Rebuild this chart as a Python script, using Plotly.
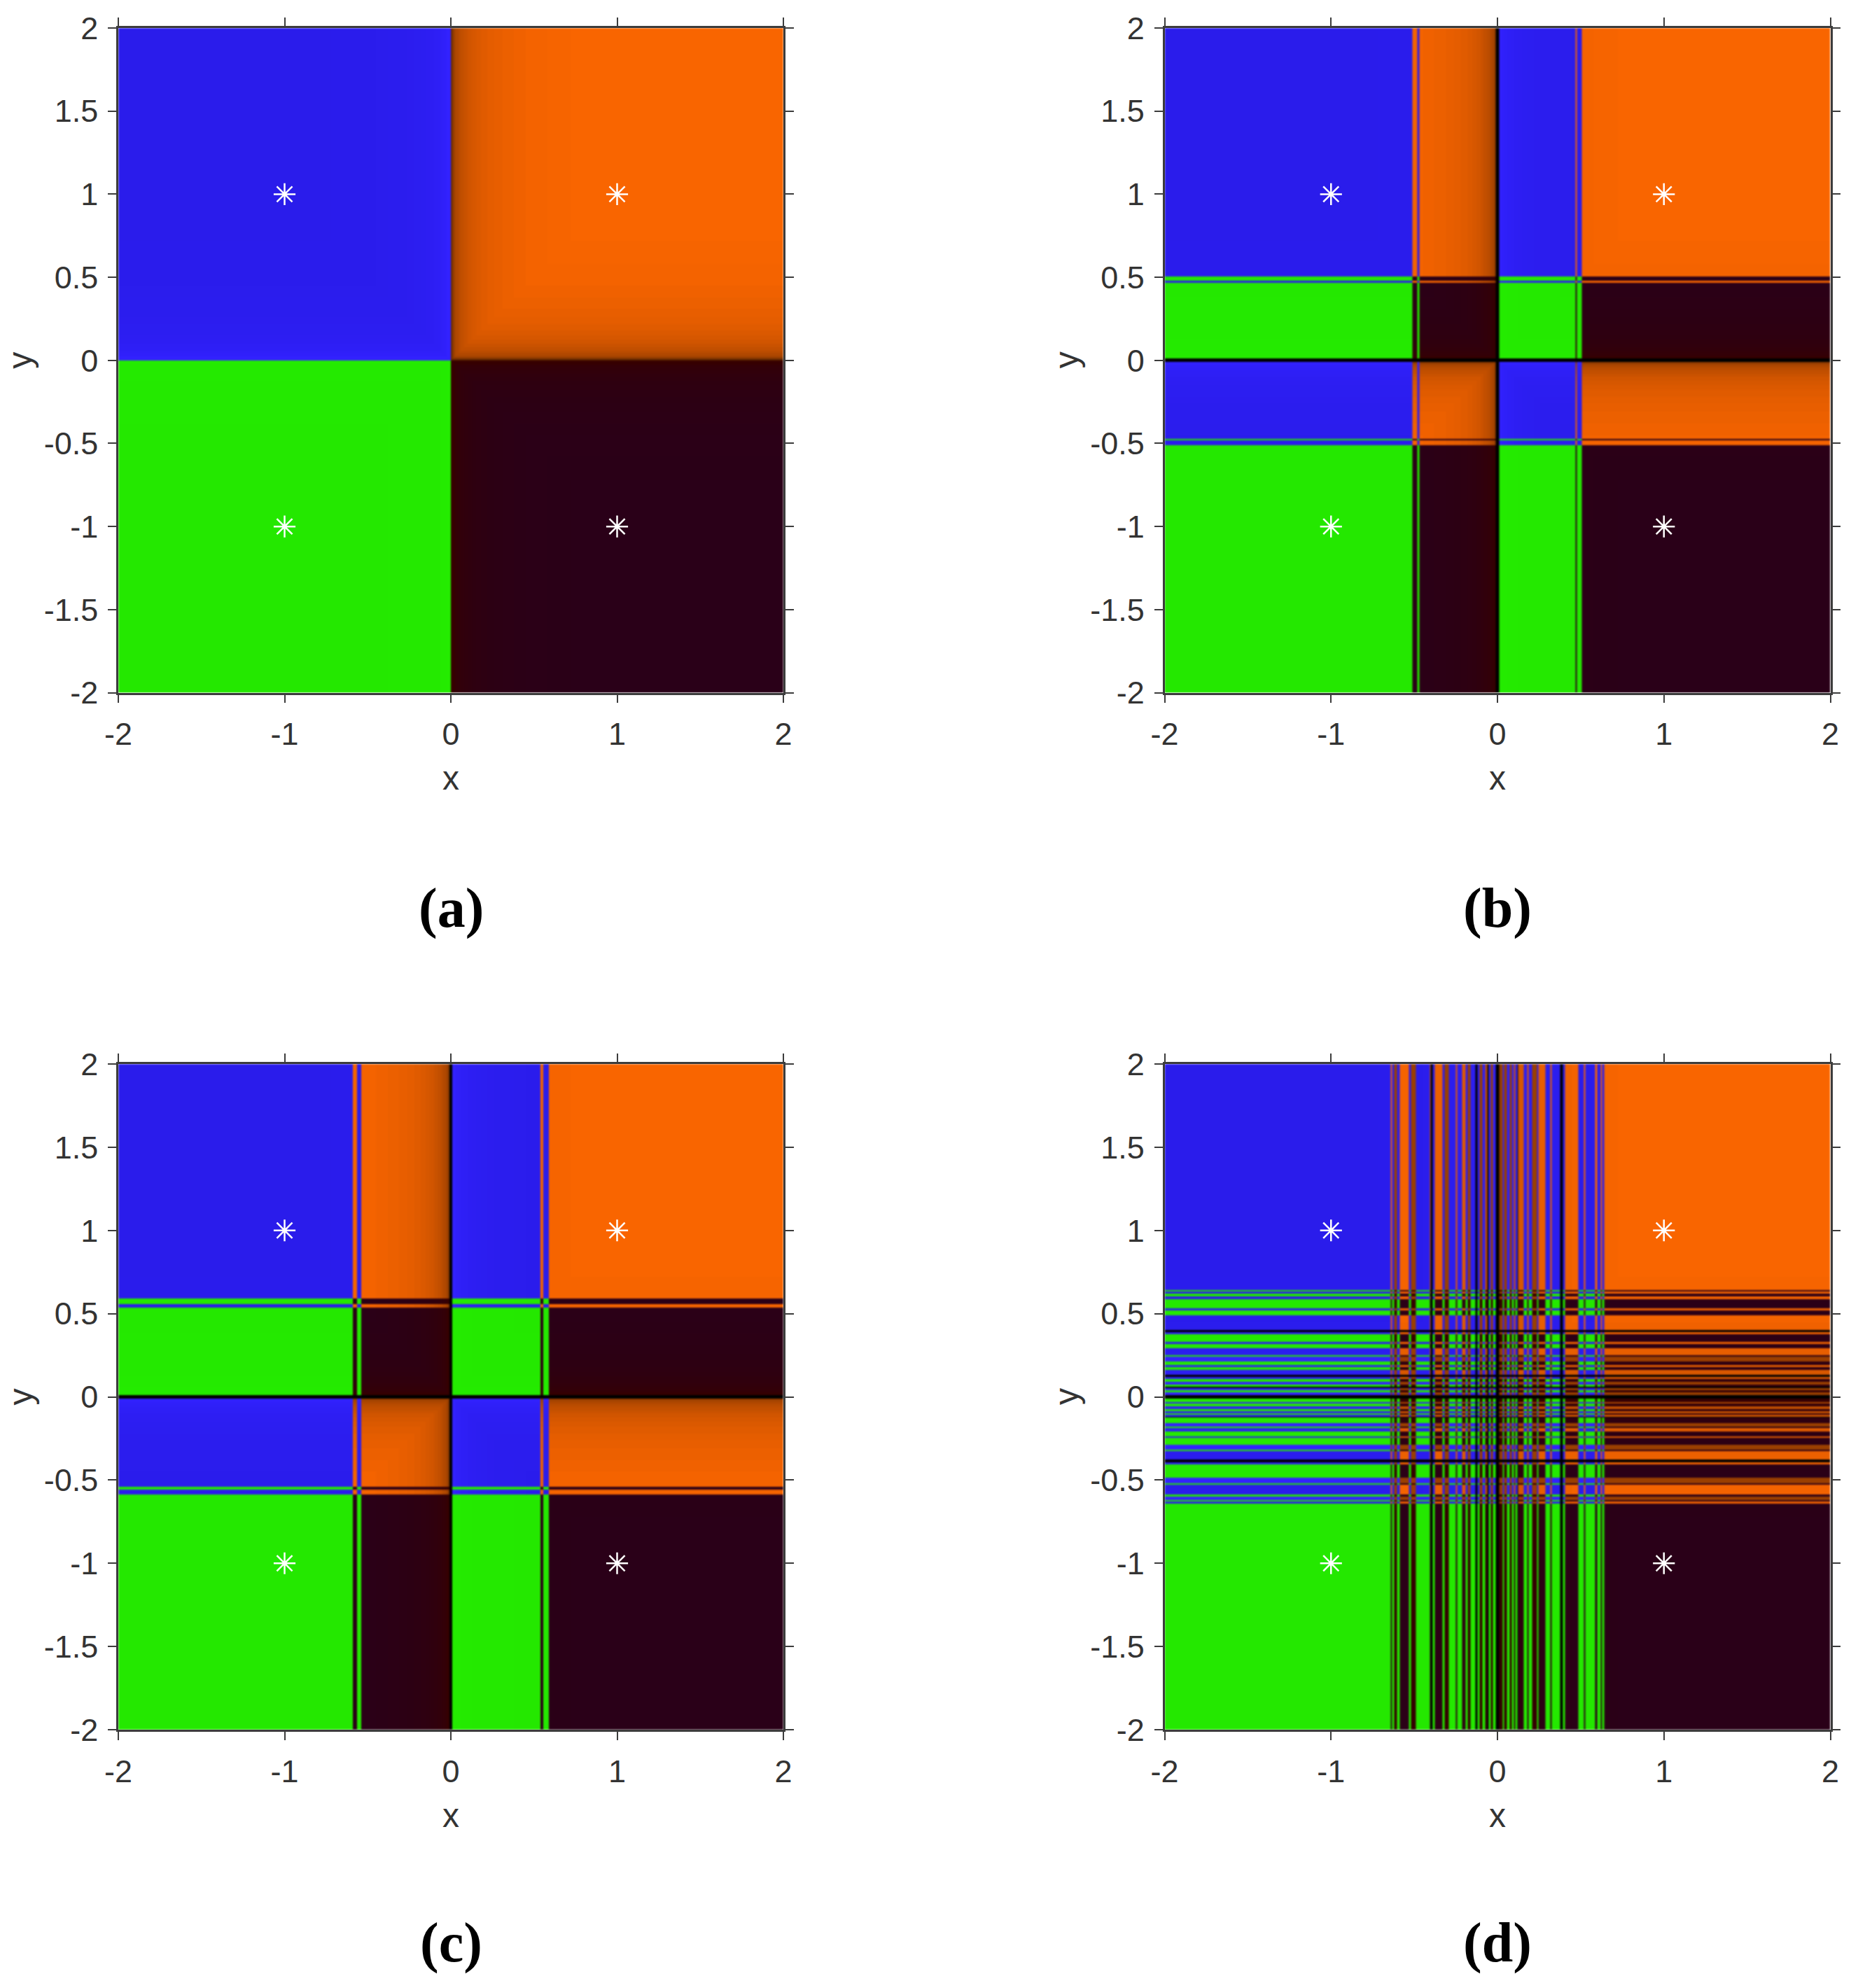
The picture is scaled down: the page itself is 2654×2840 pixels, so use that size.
import numpy as np
import plotly.graph_objects as go

# Band edges (data units) and the kind of each band, left to right / bottom to top.
# n = negative basin, p = positive basin, b = positive basin shaded brown, k = black
a_edges = [-2, 0, 2]
a_kinds = ["n", "p"]

b_x_edges = [-2, -0.510, -0.481, -0.468, -0.010, 0.009, 0.469, 0.479, 0.508, 2]
b_x_kinds = ["n", "p", "n", "p", "k", "n", "p", "n", "p"]
b_y_edges = [-2, -0.512, -0.482, -0.472, -0.010, 0.010, 0.465, 0.478, 0.506, 2]
b_y_kinds = ["n", "p", "n", "p", "k", "n", "p", "n", "p"]

c_x_edges = [-2, -0.589, -0.564, -0.537, -0.010, 0.010, 0.539, 0.557, 0.588, 2]
c_x_kinds = ["n", "p", "n", "p", "k", "n", "p", "n", "p"]
c_y_edges = [-2, -0.588, -0.557, -0.539, -0.010, 0.010, 0.537, 0.558, 0.589, 2]
c_y_kinds = ["n", "p", "n", "p", "k", "n", "p", "n", "p"]

d_x_edges = [-2, -0.643, -0.633, -0.621, -0.602, -0.588, -0.532, -0.518, -0.490, -0.408,
             -0.401, -0.391, -0.377, -0.331, -0.317, -0.292, -0.251, -0.243, -0.212, -0.191,
             -0.180, -0.163, -0.132, -0.118, -0.107, -0.090, -0.072, -0.062, -0.053, -0.042,
             -0.029, -0.011, 0.011, 0.031, 0.041, 0.058, 0.072, 0.087, 0.100, 0.108,
             0.118, 0.126, 0.156, 0.178, 0.188, 0.209, 0.237, 0.247, 0.286, 0.318,
             0.325, 0.377, 0.393, 0.407, 0.485, 0.518, 0.527, 0.585, 0.598, 0.619,
             0.627, 0.640, 2]
d_x_kinds = ["n", "p", "n", "b", "n", "p", "n", "b", "n", "p",
             "k", "n", "p", "n", "b", "n", "p", "n", "p", "n",
             "b", "n", "k", "n", "b", "n", "p", "k", "n", "b",
             "n", "k", "b", "n", "b", "n", "b", "n", "p", "n",
             "k", "p", "n", "p", "n", "b", "n", "p", "n", "p",
             "n", "k", "n", "p", "n", "p", "n", "p", "n", "p",
             "n", "p"]
d_y_edges = [-2, -0.640, -0.627, -0.619, -0.598, -0.585, -0.527, -0.518, -0.485, -0.407,
             -0.393, -0.377, -0.325, -0.318, -0.286, -0.247, -0.237, -0.209, -0.188, -0.178,
             -0.156, -0.126, -0.118, -0.108, -0.100, -0.087, -0.072, -0.058, -0.041, -0.031,
             -0.011, 0.011, 0.029, 0.042, 0.053, 0.062, 0.072, 0.090, 0.107, 0.118,
             0.132, 0.163, 0.180, 0.191, 0.212, 0.243, 0.251, 0.292, 0.317, 0.331,
             0.377, 0.391, 0.401, 0.490, 0.518, 0.532, 0.588, 0.602, 0.621, 0.633,
             0.643, 2]
d_y_kinds = ["n", "p", "n", "b", "n", "p", "n", "b", "n", "p",
             "k", "p", "n", "b", "n", "p", "n", "p", "n", "b",
             "n", "k", "p", "n", "p", "n", "p", "n", "p", "n",
             "k", "b", "n", "b", "k", "n", "b", "n", "p", "k",
             "p", "n", "p", "n", "b", "n", "p", "n", "p", "n",
             "p", "k", "p", "n", "p", "n", "p", "n", "p", "n",
             "p"]

# Brightness of the basins against the distance from an axis (steps seen in the picture)
shade_distance = [0, 0.006, 0.012, 0.02, 0.03, 0.045, 0.06, 0.08, 0.10, 0.125, 0.15, 0.18,
                  0.22, 0.26, 0.31, 0.38, 0.45, 0.58, 0.72]
shade_level = [0.38, 0.50, 0.60, 0.67, 0.71, 0.75, 0.78, 0.81, 0.84, 0.86, 0.88, 0.90,
               0.92, 0.935, 0.95, 0.965, 0.98, 0.99, 1.0]
brown_level = 0.62

# Attractors
star_x = [-1, 1, -1, 1]
star_y = [1, 1, -1, -1]

x_ticks = [-2, -1, 0, 1, 2]
x_tick_text = ["-2", "-1", "0", "1", "2"]
y_ticks = [-2, -1.5, -1, -0.5, 0, 0.5, 1, 1.5, 2]
y_tick_text = ["-2", "-1.5", "-1", "-0.5", "0", "0.5", "1", "1.5", "2"]

panels = [
    ("(a)", a_edges, a_kinds, a_edges, a_kinds),
    ("(b)", b_x_edges, b_x_kinds, b_y_edges, b_y_kinds),
    ("(c)", c_x_edges, c_x_kinds, c_y_edges, c_y_kinds),
    ("(d)", d_x_edges, d_x_kinds, d_y_edges, d_y_kinds),
]

W, H = 2654, 2840
boxes = [(169, 1119, 40, 989.5), (1663.5, 2614.5, 40, 989.5),
         (169, 1119, 1520, 2471), (1663.5, 2614.5, 1520, 2471)]
caption_y = [1297, 1297, 2775, 2775]

colorscale = [
    [0.0, "rgb(0,0,0)"], [0.2499, "rgb(249,101,0)"],
    [0.25, "rgb(54,0,0)"], [0.4999, "rgb(42,0,24)"],
    [0.5, "rgb(50,34,255)"], [0.7499, "rgb(42,28,235)"],
    [0.75, "rgb(36,236,0)"], [1.0, "rgb(36,232,0)"],
]
axis_font = dict(family="Liberation Sans", size=45, color="#333333")
title_font = dict(family="Liberation Sans", size=48, color="#333333")


def refine(edges):
    stops = [s * d for d in shade_distance[1:] for s in (-1, 1)]
    return np.unique(np.round(np.array(list(edges) + stops), 5))


def lookup(centres, edges, kinds):
    idx = np.clip(np.searchsorted(edges, centres) - 1, 0, len(kinds) - 1)
    return np.array(kinds)[idx]


def level(centres):
    i = np.searchsorted(shade_distance, np.abs(centres), side="right") - 1
    return np.array(shade_level)[np.clip(i, 0, len(shade_level) - 1)]


def grid(xe, xk, ye, yk):
    gx, gy = refine(xe), refine(ye)
    cx, cy = (gx[:-1] + gx[1:]) / 2, (gy[:-1] + gy[1:]) / 2
    kx, ky = lookup(cx, xe, xk), lookup(cy, ye, yk)
    lx, ly = level(cx), level(cy)
    lx = np.where(kx == "b", np.minimum(lx, brown_level), lx)
    ly = np.where(ky == "b", np.minimum(ly, brown_level), ly)
    t = np.minimum.outer(ly, lx)
    X, Y = np.meshgrid(np.isin(kx, ["p", "b"]), np.isin(ky, ["p", "b"]))
    base = np.where(X & Y, 0.0, np.where(X & ~Y, 1.0, np.where(~X & Y, 2.0, 3.0)))
    # the other three basins change little: only the near-axis part tints them
    tt = np.where(base == 0, t, np.clip((t - 0.6) / 0.4, 0, 1))
    z = base + tt * 0.998
    z[np.logical_or.outer(ky == "k", kx == "k")] = 0.0
    return gx, gy, z


fig = go.Figure()
layout = {}
annotations = []
for i, (label, xe, xk, ye, yk) in enumerate(panels):
    n = "" if i == 0 else str(i + 1)
    gx, gy, z = grid(xe, xk, ye, yk)
    fig.add_trace(go.Heatmap(x=gx, y=gy, z=z, zmin=0, zmax=4, colorscale=colorscale,
                             showscale=False, hoverinfo="skip", xaxis="x" + n, yaxis="y" + n))
    fig.add_trace(go.Scatter(x=star_x, y=star_y, mode="markers", xaxis="x" + n, yaxis="y" + n,
                             marker=dict(symbol="asterisk-open", size=26, color="white",
                                         line=dict(color="white", width=2.5)),
                             showlegend=False, hoverinfo="skip"))
    x0, x1, y0, y1 = boxes[i]
    common = dict(range=[-2, 2], showgrid=False, zeroline=False, showline=True,
                  linecolor="#3c3c3c", linewidth=2.5, mirror="ticks", ticks="outside",
                  ticklen=12, tickwidth=2, tickcolor="#3c3c3c", automargin=False,
                  tickfont=axis_font)
    layout["xaxis" + n] = dict(domain=[x0 / W, x1 / W], anchor="y" + n, tickmode="array",
                               tickvals=x_ticks, ticktext=x_tick_text, ticklabelstandoff=6, **common)
    layout["yaxis" + n] = dict(domain=[1 - y1 / H, 1 - y0 / H], anchor="x" + n, tickmode="array",
                               tickvals=y_ticks, ticktext=y_tick_text, ticklabelstandoff=5, **common)
    cx, cy = (x0 + x1) / 2, (y0 + y1) / 2
    annotations.append(dict(text="x", xref="paper", yref="paper", x=cx / W, y=1 - (y1 + 122) / H,
                            showarrow=False, xanchor="center", yanchor="middle", font=title_font))
    annotations.append(dict(text="y", xref="paper", yref="paper", x=(x0 - 140) / W, y=1 - cy / H,
                            showarrow=False, xanchor="center", yanchor="middle", textangle=-90,
                            font=title_font))
    annotations.append(dict(text="<b>%s</b>" % label, xref="paper", yref="paper",
                            x=cx / W, y=1 - caption_y[i] / H, showarrow=False,
                            xanchor="center", yanchor="middle",
                            font=dict(family="Liberation Serif", size=80, color="black")))

fig.update_layout(width=W, height=H, margin=dict(l=0, r=0, t=0, b=0), autosize=False,
                  paper_bgcolor="white", plot_bgcolor="white", showlegend=False,
                  annotations=annotations, **layout)
# page without the default body margin; heatmap edges softened like the resampled original
css = "body{margin:0}g.hm image{filter:blur(0.8px)}"
fig.write_html("out.html", config=dict(displayModeBar=False),
               post_script="document.head.insertAdjacentHTML('beforeend','<style>%s</style>');" % css)
